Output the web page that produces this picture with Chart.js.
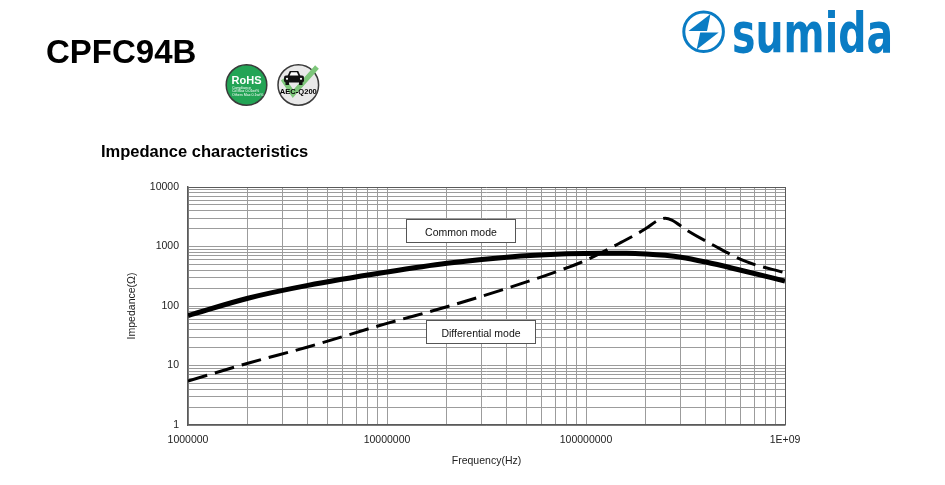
<!DOCTYPE html>
<html>
<head>
<meta charset="utf-8">
<title>CPFC94B Impedance characteristics</title>
<script src="https://cdn.jsdelivr.net/npm/chart.js@4.4.1/dist/chart.umd.min.js"></script>
<style>
  html, body { margin: 0; padding: 0; background: #fff; }
  body {
    width: 945px; height: 485px; position: relative; overflow: hidden;
    font-family: 'Liberation Sans', Arial, sans-serif;
  }
  #chartWrap { position: absolute; left: 100px; top: 175px; width: 705px; height: 300px; }
  #overlay { position: absolute; left: 0; top: 0; width: 945px; height: 485px; pointer-events: none; }
</style>
</head>
<body>
<div id="chartWrap"><canvas id="impedanceChart"></canvas></div>

<svg id="overlay" width="945" height="485" viewBox="0 0 945 485" font-family="'Liberation Sans', Arial, sans-serif">
  <!-- header -->
  <text x="46" y="63" font-size="33" font-weight="bold" fill="#000">CPFC94B</text>
  <text x="101" y="157" font-size="16.5" font-weight="bold" fill="#000">Impedance characteristics</text>

  <!-- logo -->
  <circle cx="703.6" cy="31.8" r="19.8" fill="none" stroke="#0a7cc4" stroke-width="3"/>
  <polygon points="710.5,14 688.5,31 707,31" fill="#0a7cc4"/>
  <polygon points="696.7,49.6 718.7,32.6 700.2,32.6" fill="#0a7cc4"/>
  <text x="732" y="52" font-family="'DejaVu Sans', sans-serif" font-size="55" font-weight="bold"
        fill="#0a7cc4" textLength="161" lengthAdjust="spacingAndGlyphs">sumida</text>

  <!-- RoHS badge -->
  <circle cx="246.5" cy="85" r="20.3" fill="#23a455" stroke="#3a3a3a" stroke-width="1.5"/>
  <text x="246.5" y="83.5" text-anchor="middle" font-size="11" font-weight="bold" fill="#fff"
        textLength="30" lengthAdjust="spacingAndGlyphs">RoHS</text>
  <text x="232" y="88.8" font-size="3.6" fill="#fff">Compliance</text>
  <text x="232" y="92.4" font-size="3.6" fill="#fff">Cd Max 0.01wt%</text>
  <text x="232" y="96" font-size="3.6" fill="#fff">Others Max 0.1wt%</text>

  <!-- AEC-Q200 badge -->
  <circle cx="298.3" cy="85" r="20.3" fill="#e9e9e9" stroke="#3a3a3a" stroke-width="1.5"/>
  <polyline points="283,79 293,94 317,67" stroke="#7dc67a" stroke-width="5" fill="none"/>
  <path d="M287.5,76 L289.8,71 L298.2,71 L300.5,76 Z" fill="#111"/>
  <rect x="284" y="75.5" width="20" height="7" rx="2" fill="#111"/>
  <rect x="285.5" y="81.5" width="3.5" height="3.5" fill="#111"/>
  <rect x="299" y="81.5" width="3.5" height="3.5" fill="#111"/>
  <polygon points="289.6,75.5 291.1,72.3 296.9,72.3 298.4,75.5" fill="#fff"/>
  <circle cx="287" cy="78.8" r="1.1" fill="#fff"/>
  <circle cx="301" cy="78.8" r="1.1" fill="#fff"/>
  <text x="298.3" y="94.3" text-anchor="middle" font-size="8" font-weight="bold" fill="#000"
        textLength="37" lengthAdjust="spacingAndGlyphs">AEC-Q200</text>

  <!-- curve labels -->
  <rect x="406.5" y="219.5" width="109" height="23" fill="#fff" stroke="#555" stroke-width="1"/>
  <text x="461" y="235.5" text-anchor="middle" font-size="10.5" fill="#111">Common mode</text>
  <rect x="426.5" y="320.5" width="109" height="23" fill="#fff" stroke="#555" stroke-width="1"/>
  <text x="481" y="337" text-anchor="middle" font-size="10.5" fill="#111">Differential mode</text>
</svg>

<script>
// values (Hz, Ohm)
const commonFreq = [1e6, 2e6, 4e6, 1e7, 2e7, 4e7, 8e7, 1.2e8, 1.6e8, 2e8, 2.5e8, 3e8, 4e8, 6e8, 1e9];
const commonZ    = [69, 135, 222, 372, 522, 660, 752, 772, 770, 750, 712, 662, 548, 399, 263];

const diffFreq = [1e6, 2e6, 4e6, 1e7, 2e7, 4e7, 7e7, 1e8, 1.5e8, 2e8, 2.3e8, 2.5e8, 2.7e8, 3.2e8, 4.35e8, 6.4e8, 1e9];
const diffZ    = [5.5, 10.9, 20.5, 51, 97, 198, 372, 590, 1170, 2000, 2750, 2980, 2780, 1890, 1060, 555, 363];

const xTickValues = [1e6, 1e7, 1e8, 1e9];
const xTickLabels = ['1000000', '10000000', '100000000', '1E+09'];
const yTickValues = [1, 10, 100, 1000, 10000];
const yTickLabels = ['1', '10', '100', '1000', '10000'];

const FONT = "'Liberation Sans', Arial, sans-serif";
const GRID = '#9c9c9c';
const EDGE = '#5a5a5a';

// 1..9 in every decade, for the log grid
function logGridTicks(min, max) {
  const ticks = [];
  for (let d = min; d < max; d *= 10) {
    for (let m = 1; m < 10; m++) {
      ticks.push({ value: d * m });
    }
  }
  ticks.push({ value: max });
  return ticks;
}

function labelFor(values, labels) {
  return function(value) {
    const i = values.indexOf(value);
    return i >= 0 ? labels[i] : '';
  };
}

const toPoints = (xs, ys) => xs.map((x, i) => ({ x: x, y: ys[i] }));

const xMin = xTickValues[0], xMax = xTickValues[xTickValues.length - 1];
const yMin = yTickValues[0], yMax = yTickValues[yTickValues.length - 1];

new Chart(document.getElementById('impedanceChart'), {
  type: 'line',
  data: {
    datasets: [
      {
        label: 'Common mode',
        data: toPoints(commonFreq, commonZ),
        borderColor: '#000',
        borderWidth: 5,
        borderJoinStyle: 'round',
        pointRadius: 0,
        cubicInterpolationMode: 'monotone',
        fill: false,
      },
      {
        label: 'Differential mode',
        data: toPoints(diffFreq, diffZ),
        borderColor: '#000',
        borderWidth: 3,
        borderDash: [20, 8],
        pointRadius: 0,
        cubicInterpolationMode: 'monotone',
        fill: false,
      },
    ],
  },
  options: {
    responsive: true,
    maintainAspectRatio: false,
    animation: false,
    layout: { padding: { top: 12, right: 20, left: 0, bottom: 0 } },
    plugins: {
      legend: { display: false },
      tooltip: { enabled: false },
    },
    scales: {
      x: {
        type: 'logarithmic',
        min: xMin,
        max: xMax,
        afterBuildTicks: (scale) => { scale.ticks = logGridTicks(xMin, xMax); },
        afterFit: (scale) => {
          scale.height = 50;
          scale.paddingLeft = 0;
          scale.paddingRight = 0;
        },
        grid: {
          drawTicks: false,
          color: (ctx) => (ctx.tick && ctx.tick.value === xMax ? EDGE : GRID),
          lineWidth: 1,
        },
        border: { display: true, color: EDGE, width: 1.5 },
        ticks: {
          autoSkip: false,
          maxRotation: 0,
          minRotation: 0,
          padding: 9,
          color: '#222',
          font: { family: FONT, size: 10.5 },
          callback: labelFor(xTickValues, xTickLabels),
        },
        title: {
          display: true,
          text: 'Frequency(Hz)',
          color: '#222',
          font: { family: FONT, size: 10.5 },
          padding: { top: 0, bottom: 8 },
        },
      },
      y: {
        type: 'logarithmic',
        min: yMin,
        max: yMax,
        afterBuildTicks: (scale) => { scale.ticks = logGridTicks(yMin, yMax); },
        afterFit: (scale) => {
          scale.width = 88;
          scale.paddingTop = 0;
          scale.paddingBottom = 0;
        },
        grid: {
          drawTicks: false,
          color: (ctx) => (ctx.tick && ctx.tick.value === yMax ? EDGE : GRID),
          lineWidth: 1,
        },
        border: { display: true, color: EDGE, width: 1.5 },
        ticks: {
          autoSkip: false,
          padding: 9,
          color: '#222',
          font: { family: FONT, size: 10.5 },
          callback: labelFor(yTickValues, yTickLabels),
        },
        title: {
          display: true,
          text: 'Impedance(Ω)',
          color: '#222',
          font: { family: FONT, size: 10.5 },
          padding: { top: 26, bottom: 0 },
        },
      },
    },
  },
});
</script>
</body>
</html>
